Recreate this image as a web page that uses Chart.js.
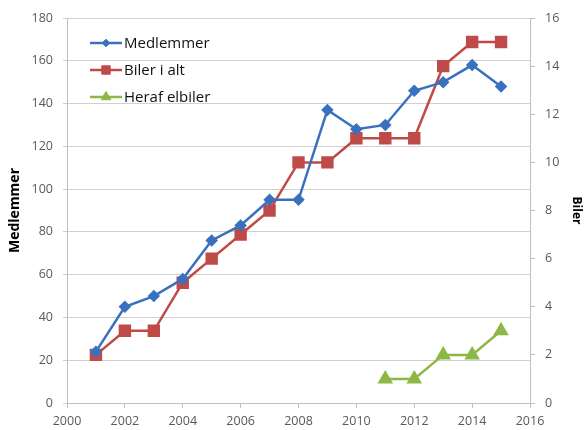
<!DOCTYPE html>
<html><head><meta charset="utf-8">
<script src="https://cdn.jsdelivr.net/npm/chart.js@4.4.1/dist/chart.umd.min.js"></script>
<style>html,body{margin:0;padding:0;background:#fff;}#wrap{width:585px;height:430px;position:relative;}</style>
</head><body>
<div id="wrap"><canvas id="c" width="585" height="430"></canvas></div>
<script>
// ---- data ----
const years = [2001, 2002, 2003, 2004, 2005, 2006, 2007, 2008, 2009, 2010, 2011, 2012, 2013, 2014, 2015];
const medlemmer = [24, 45, 50, 58, 76, 83, 95, 95, 137, 128, 130, 146, 150, 158, 148];
const bilerIAlt = [2, 3, 3, 5, 6, 7, 8, 10, 10, 11, 11, 11, 14, 15, 15];
const herafElbiler = [null, null, null, null, null, null, null, null, null, null, 1, 1, 2, 2, 3];
const seriesNames = ['Medlemmer', 'Biler i alt', 'Heraf elbiler'];
const xTickRange = [2000, 2016, 2];
const leftTickRange = [0, 180, 20];
const rightTickRange = [0, 16, 2];
const leftTitle = 'Medlemmer';
const rightTitle = 'Biler';

// ---- styles ----
const BLUE = '#3A71BE', RED = '#BF4B48', GREEN = '#8DB845';
const FONT = "'Open Sans', 'Liberation Sans', sans-serif";
const toPts = vals => years.map((y, i) => ({x: y, y: vals[i]}));

const insideLegend = {
  id: 'insideLegend',
  afterDatasetsDraw(chart) {
    const ctx = chart.ctx, ca = chart.chartArea;
    const H = Chart.helpers;
    chart.data.datasets.forEach((ds, i) => {
      const y = ca.top + 25 + i * 27;
      const x1 = ca.left + 23, x2 = ca.left + 55, xm = (x1 + x2) / 2;
      ctx.save();
      ctx.strokeStyle = ds.borderColor;
      ctx.lineWidth = 2.5;
      ctx.beginPath(); ctx.moveTo(x1, y); ctx.lineTo(x2, y); ctx.stroke();
      ctx.fillStyle = ds.pointBackgroundColor;
      ctx.strokeStyle = ds.pointBorderColor;
      ctx.lineWidth = 1;
      H.drawPoint(ctx, {pointStyle: ds.pointStyle, radius: ds.pointRadius * 0.85, rotation: 0, borderWidth: 1}, xm, y);
      ctx.fillStyle = '#111';
      ctx.font = "15px " + FONT;
      ctx.textBaseline = 'middle';
      ctx.textAlign = 'left';
      ctx.fillText(ds.label, x2 + 2, y + 1);
      ctx.restore();
    });
  }
};

new Chart(document.getElementById('c'), {
  type: 'line',
  data: {
    datasets: [
      {label: seriesNames[0], data: toPts(medlemmer), yAxisID: 'yL',
       borderColor: BLUE, backgroundColor: BLUE, pointBackgroundColor: BLUE, pointBorderColor: BLUE,
       borderWidth: 2.5, pointStyle: 'rectRot', pointRadius: 4.5, tension: 0},
      {label: seriesNames[1], data: toPts(bilerIAlt), yAxisID: 'yR',
       borderColor: RED, backgroundColor: RED, pointBackgroundColor: RED, pointBorderColor: RED,
       borderWidth: 2.5, pointStyle: 'rect', pointRadius: 7, tension: 0},
      {label: seriesNames[2], data: toPts(herafElbiler), yAxisID: 'yR',
       borderColor: GREEN, backgroundColor: GREEN, pointBackgroundColor: GREEN, pointBorderColor: GREEN,
       borderWidth: 2.5, pointStyle: 'triangle', pointRadius: 6.5, tension: 0}
    ]
  },
  options: {
    responsive: false,
    animation: false,
    layout: {padding: {top: 18, left: 4, right: 0, bottom: 2}},
    plugins: {legend: {display: false}, tooltip: {enabled: false}},
    scales: {
      x: {
        type: 'linear', min: xTickRange[0], max: xTickRange[1],
        ticks: {stepSize: xTickRange[2], color: '#595959', font: {family: FONT, size: 12.5}, padding: 6,
                callback: v => String(v), maxRotation: 0, autoSkip: false},
        grid: {drawOnChartArea: false, drawTicks: true, tickLength: 5, color: '#bfbfbf'},
        border: {color: '#bfbfbf', width: 1},
        afterFit: s => { s.height = 25; }
      },
      yL: {
        position: 'left', min: leftTickRange[0], max: leftTickRange[1],
        ticks: {stepSize: leftTickRange[2], color: '#595959', font: {family: FONT, size: 12.5}, padding: 10},
        grid: {color: '#d0d0d0', tickLength: 4, drawTicks: true},
        border: {color: '#bfbfbf', width: 1},
        title: {display: true, text: leftTitle, color: '#000', font: {family: FONT, size: 14, weight: 'bold'}, padding: {top: 3, bottom: 0}},
        afterFit: s => { s.width = 63; }
      },
      yR: {
        position: 'right', min: rightTickRange[0], max: rightTickRange[1],
        ticks: {stepSize: rightTickRange[2], color: '#595959', font: {family: FONT, size: 12.5}, padding: 10},
        grid: {drawOnChartArea: false, tickLength: 5, drawTicks: true, color: '#bfbfbf'},
        border: {color: '#bfbfbf', width: 1},
        title: {display: true, text: rightTitle, color: '#000', font: {family: FONT, size: 12, weight: 'bold'}, padding: {top: 1, bottom: 0}},
        afterFit: s => { s.width = 55; }
      }
    }
  },
  plugins: [insideLegend]
});
</script>
</body></html>
